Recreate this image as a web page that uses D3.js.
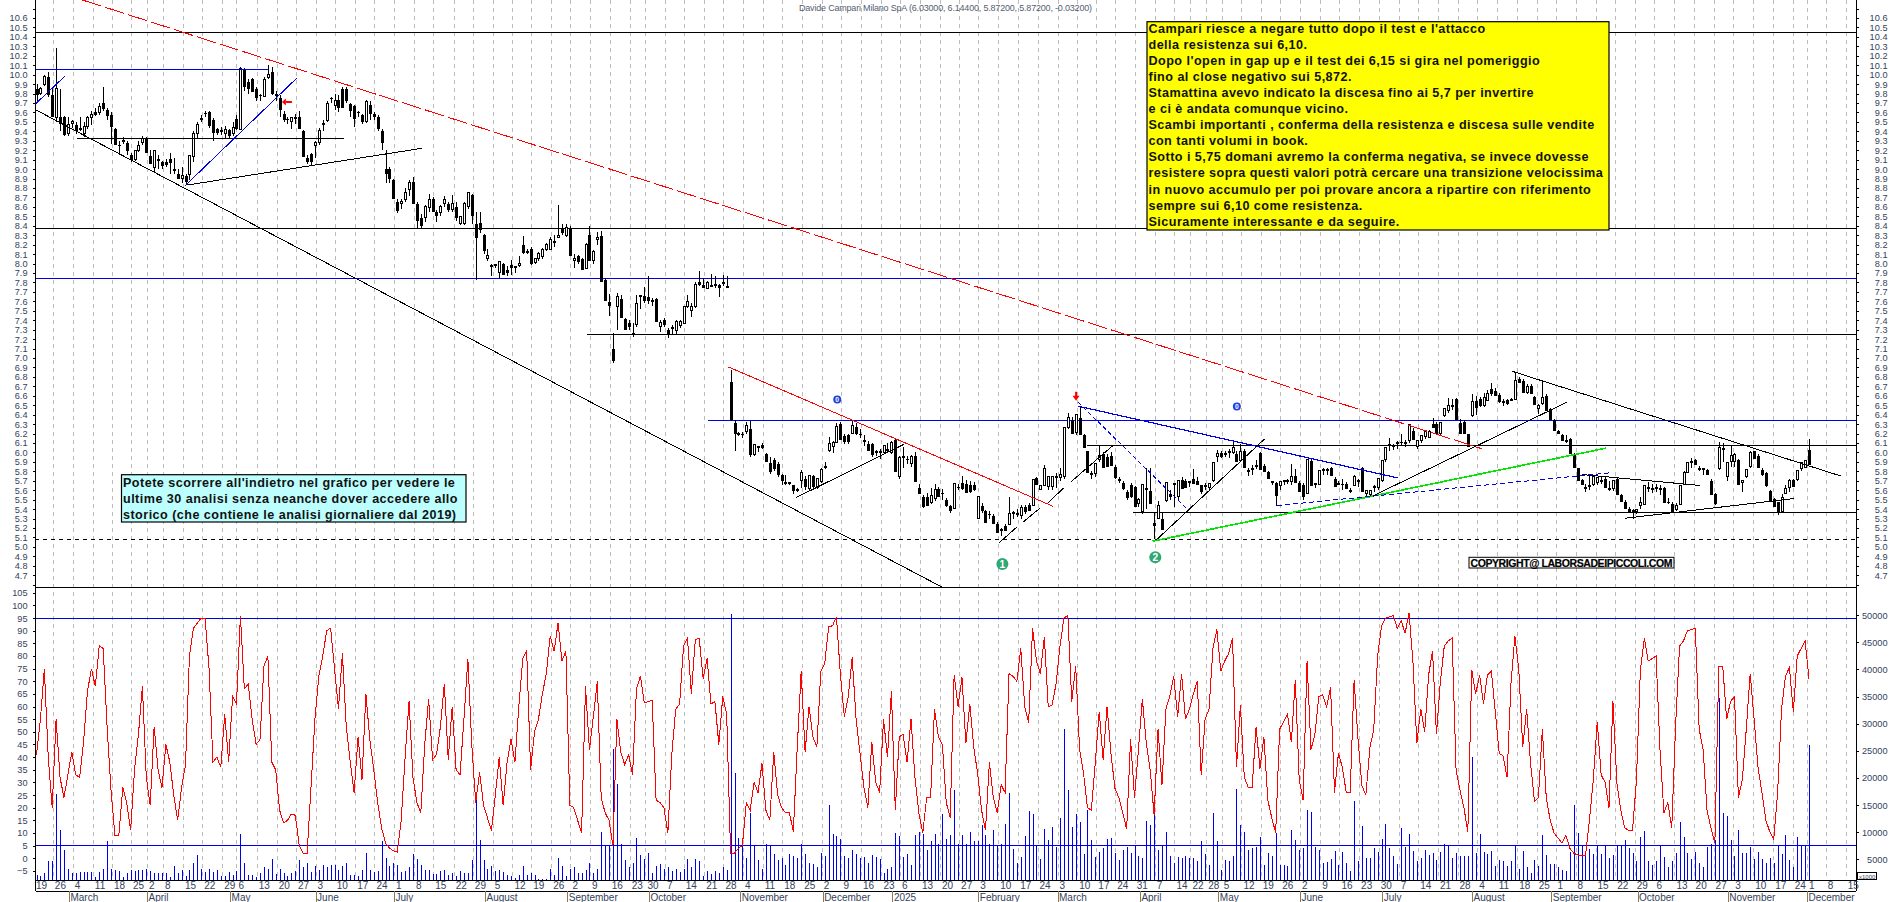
<!DOCTYPE html>
<html>
<head>
<meta charset="utf-8">
<script src="https://cdn.jsdelivr.net/npm/d3@7/dist/d3.min.js"></script>
<style>
html, body { margin: 0; padding: 0; background: #fff; overflow: hidden; }
text { font-family: "Liberation Sans", Arial, sans-serif; }
.axis path, .axis line { stroke: #000; shape-rendering: crispEdges; }
.axis text { fill: #35425c; font-size: 9.2px; }
</style>
</head>
<body>
<div id="chart"></div>
<script>
// open, high, low, close per session
const ohlc = [
[9.85,9.9,9.7,9.78],[9.8,9.87,9.78,9.85],[9.9,10.0,9.88,9.98],[9.98,10.03,9.76,9.78],[9.78,9.85,9.55,9.55],[9.55,10.28,9.5,9.85],[9.55,9.85,9.4,9.48],[9.55,9.56,9.35,9.36],[9.38,9.55,9.35,9.47],[9.48,9.52,9.44,9.5],
[9.47,9.5,9.37,9.4],[9.43,9.55,9.4,9.41],[9.38,9.5,9.34,9.45],[9.45,9.56,9.42,9.55],[9.55,9.62,9.47,9.58],[9.6,9.65,9.56,9.57],[9.6,9.7,9.57,9.66],[9.7,9.87,9.62,9.64],[9.63,9.65,9.52,9.56],[9.57,9.6,9.27,9.45],
[9.42,9.44,9.25,9.25],[9.25,9.3,9.17,9.24],[9.29,9.34,9.27,9.3],[9.28,9.3,9.15,9.19],[9.15,9.17,9.07,9.1],[9.1,9.2,9.09,9.2],[9.2,9.3,9.18,9.25],[9.28,9.35,9.26,9.32],[9.33,9.34,9.17,9.17],[9.14,9.2,9.05,9.05],
[9.02,9.2,8.96,9.2],[9.09,9.15,9.0,9.1],[9.07,9.09,9.0,9.03],[9.08,9.11,9.02,9.04],[9.11,9.17,8.95,9.06],[9.0,9.12,8.95,8.98],[8.95,9.0,8.9,8.9],[8.9,9.02,8.85,8.93],[8.93,8.95,8.83,8.86],[8.94,9.15,8.88,9.14],
[9.13,9.4,9.08,9.38],[9.38,9.5,9.33,9.47],[9.53,9.57,9.5,9.54],[9.59,9.62,9.55,9.58],[9.6,9.62,9.44,9.46],[9.52,9.54,9.3,9.38],[9.42,9.44,9.36,9.38],[9.4,9.45,9.36,9.41],[9.38,9.46,9.32,9.42],[9.41,9.42,9.33,9.35],
[9.38,9.5,9.35,9.44],[9.53,9.57,9.41,9.42],[9.42,10.08,9.41,10.07],[10.05,10.07,9.83,9.87],[9.92,9.95,9.8,9.85],[9.95,9.96,9.82,9.82],[9.85,9.87,9.72,9.75],[9.78,9.8,9.72,9.77],[9.77,9.97,9.76,9.95],[9.97,10.1,9.95,10.0],
[10.03,10.08,9.78,9.8],[9.78,9.83,9.72,9.79],[9.75,9.78,9.55,9.63],[9.58,9.62,9.5,9.52],[9.53,9.55,9.48,9.52],[9.5,9.55,9.42,9.55],[9.54,9.58,9.48,9.55],[9.55,9.62,9.42,9.42],[9.4,9.41,9.13,9.13],[9.12,9.15,9.05,9.08],
[9.16,9.17,9.03,9.08],[9.25,9.3,9.12,9.28],[9.28,9.43,9.25,9.41],[9.47,9.52,9.4,9.48],[9.51,9.72,9.5,9.69],[9.75,9.76,9.7,9.74],[9.67,9.8,9.63,9.73],[9.73,9.78,9.6,9.65],[9.85,9.87,9.65,9.65],[9.85,9.87,9.7,9.72],
[9.69,9.7,9.55,9.61],[9.67,9.68,9.45,9.53],[9.6,9.62,9.55,9.59],[9.57,9.58,9.48,9.5],[9.5,9.73,9.49,9.72],[9.68,9.72,9.52,9.58],[9.58,9.6,9.52,9.55],[9.55,9.57,9.4,9.42],[9.4,9.42,9.2,9.28],[9.0,9.2,8.85,8.95],
[9.0,9.02,8.85,8.9],[8.88,8.9,8.68,8.68],[8.65,8.68,8.53,8.56],[8.64,8.68,8.58,8.66],[8.68,8.8,8.65,8.75],[8.78,8.88,8.72,8.86],[8.86,8.92,8.63,8.63],[8.63,8.65,8.38,8.45],[8.48,8.52,8.38,8.4],[8.49,8.62,8.44,8.6],
[8.59,8.74,8.55,8.68],[8.68,8.7,8.55,8.55],[8.55,8.57,8.44,8.5],[8.54,8.62,8.5,8.6],[8.64,8.72,8.6,8.68],[8.63,8.65,8.55,8.57],[8.57,8.73,8.55,8.64],[8.6,8.65,8.45,8.48],[8.42,8.5,8.41,8.5],[8.42,8.65,8.41,8.64],
[8.6,8.76,8.58,8.75],[8.73,8.74,8.42,8.5],[8.42,8.55,7.83,8.27],[8.43,8.55,8.32,8.36],[8.3,8.31,8.1,8.13],[8.05,8.15,8.03,8.09],[7.97,8.0,7.87,7.98],[7.99,8.0,7.95,7.99],[7.9,8.03,7.85,8.02],[8.0,8.01,7.88,7.88],
[7.93,7.97,7.87,7.9],[7.98,8.04,7.88,7.95],[7.96,7.97,7.9,7.97],[7.98,8.08,7.96,8.0],[8.2,8.29,8.1,8.11],[8.13,8.15,8.1,8.13],[8.15,8.17,7.98,8.0],[8.01,8.06,8.0,8.05],[8.05,8.12,8.03,8.11],[8.07,8.16,8.05,8.15],
[8.15,8.22,8.13,8.2],[8.15,8.28,8.14,8.25],[8.22,8.3,8.18,8.23],[8.28,8.62,8.27,8.3],[8.38,8.42,8.3,8.32],[8.3,8.42,8.28,8.38],[8.38,8.4,8.08,8.08],[8.03,8.1,7.95,8.05],[8.08,8.09,8.0,8.02],[8.05,8.06,7.93,7.93],
[7.95,8.22,7.94,8.2],[8.3,8.4,8.03,8.03],[8.03,8.14,8.0,8.13],[8.25,8.33,8.2,8.28],[8.29,8.34,7.8,7.8],[7.83,7.84,7.6,7.6],[7.59,7.68,7.44,7.55],[7.1,7.26,6.95,6.97],[7.55,7.69,7.3,7.65],[7.62,7.67,7.42,7.42],
[7.41,7.42,7.3,7.3],[7.37,7.4,7.3,7.33],[7.26,7.37,7.22,7.24],[7.35,7.67,7.33,7.58],[7.65,7.67,7.52,7.66],[7.66,7.75,7.58,7.6],[7.65,7.87,7.57,7.6],[7.6,7.63,7.55,7.61],[7.62,7.63,7.38,7.38],[7.33,7.4,7.28,7.38],
[7.4,7.42,7.33,7.35],[7.3,7.32,7.21,7.25],[7.31,7.35,7.24,7.32],[7.29,7.4,7.24,7.39],[7.34,7.4,7.32,7.39],[7.37,7.55,7.36,7.54],[7.54,7.67,7.53,7.6],[7.5,7.58,7.43,7.55],[7.54,7.8,7.53,7.78],[7.8,7.92,7.76,7.77],
[7.77,7.85,7.74,7.74],[7.74,7.81,7.73,7.8],[7.76,7.89,7.75,7.77],[7.78,7.87,7.74,7.76],[7.77,7.78,7.65,7.74],[7.8,7.88,7.76,7.78],[7.76,7.87,7.75,7.76],
[6.75,6.87,6.33,6.34],[6.31,6.34,6.02,6.19],[6.2,6.22,6.17,6.2],[6.2,6.22,6.15,6.19],[6.22,6.32,6.2,6.29],[6.25,6.33,5.95,5.97],[5.98,6.09,5.96,6.08],
[6.05,6.07,6.0,6.06],[6.08,6.1,6.04,6.05],[5.98,5.99,5.9,5.9],[5.89,5.95,5.77,5.79],[5.92,5.94,5.8,5.82],[5.88,5.9,5.74,5.76],[5.76,5.77,5.65,5.7],[5.68,5.76,5.66,5.68],[5.67,5.69,5.65,5.68],[5.65,5.66,5.56,5.59],
[5.6,5.62,5.58,5.61],[5.7,5.81,5.62,5.79],[5.72,5.75,5.6,5.63],[5.62,5.76,5.6,5.76],[5.75,5.76,5.61,5.63],[5.63,5.73,5.61,5.72],[5.69,5.83,5.68,5.82],[5.84,5.9,5.82,5.85],[6.02,6.16,6.0,6.09],[6.06,6.12,5.99,6.11],
[6.11,6.31,6.1,6.27],[6.3,6.32,6.13,6.13],[6.17,6.2,6.09,6.11],[6.18,6.2,6.09,6.11],[6.2,6.34,6.19,6.28],[6.27,6.31,6.18,6.2],[6.2,6.25,6.15,6.19],[6.13,6.18,6.07,6.13],[6.09,6.12,6.02,6.02],[6.09,6.1,5.95,5.97],
[6.0,6.03,5.96,6.01],[6.0,6.04,5.93,6.01],[6.0,6.08,5.98,6.07],[6.04,6.1,6.0,6.02],[6.0,6.12,5.98,6.11],[6.13,6.14,5.79,5.79],[5.74,5.96,5.72,5.95],[5.96,6.06,5.84,5.96],[5.93,5.96,5.88,5.92],[5.88,5.97,5.85,5.96],
[5.96,6.0,5.69,5.69],[5.62,5.67,5.56,5.56],[5.53,5.55,5.41,5.42],[5.53,5.57,5.43,5.43],[5.47,5.62,5.45,5.54],[5.51,5.67,5.49,5.61],[5.61,5.63,5.53,5.53],[5.57,5.61,5.5,5.56],[5.5,5.52,5.42,5.43],[5.43,5.44,5.36,5.38],
[5.41,5.67,5.4,5.67],[5.63,5.67,5.6,5.62],[5.68,5.75,5.6,5.61],[5.67,5.71,5.57,5.57],[5.66,5.7,5.57,5.58],[5.65,5.69,5.59,5.6],[5.3,5.53,5.29,5.53],[5.43,5.46,5.36,5.38],[5.38,5.39,5.25,5.25],[5.35,5.38,5.3,5.34],
[5.33,5.35,5.24,5.24],[5.24,5.26,5.15,5.15],[5.17,5.2,5.12,5.18],[5.22,5.24,5.17,5.17],[5.24,5.53,5.23,5.35],[5.35,5.38,5.3,5.36],[5.34,5.4,5.32,5.35],[5.33,5.44,5.3,5.42],[5.42,5.44,5.35,5.37],[5.44,5.46,5.38,5.38],
[5.44,5.72,5.43,5.71],[5.73,5.74,5.65,5.65],[5.61,5.66,5.6,5.65],[5.65,5.87,5.64,5.83],[5.64,5.75,5.6,5.74],[5.64,5.75,5.6,5.74],[5.73,5.78,5.62,5.74],[5.73,5.84,5.7,5.77],[5.74,6.26,5.72,6.26],[6.26,6.42,6.25,6.37],
[6.33,6.37,6.19,6.19],[6.21,6.4,6.18,6.4],[6.36,6.49,6.18,6.18],[6.18,6.2,6.05,6.05],[6.01,6.02,5.78,5.78],[5.78,5.8,5.72,5.76],[5.78,5.88,5.74,5.88],[5.92,6.07,5.9,5.97],[5.98,6.0,5.84,5.84],[5.95,5.98,5.85,5.85],
[5.96,6.0,5.86,5.86],[5.85,5.87,5.72,5.73],[5.72,5.74,5.68,5.7],[5.68,5.7,5.6,5.61],[5.58,5.6,5.5,5.52],[5.65,5.68,5.52,5.53],[5.63,5.64,5.42,5.42],[5.46,5.52,5.42,5.5],[5.37,5.66,5.35,5.66],[5.62,5.84,5.4,5.62],
[5.59,5.83,5.45,5.45],[5.25,5.36,5.08,5.22],[5.3,5.49,5.29,5.44],[5.3,5.36,5.18,5.18],[5.49,5.68,5.48,5.68],[5.56,5.6,5.5,5.53],[5.66,5.68,5.42,5.67],[5.53,5.7,5.5,5.7],[5.71,5.74,5.61,5.61],[5.7,5.72,5.62,5.62],
[5.68,5.7,5.63,5.69],[5.72,5.82,5.67,5.67],[5.7,5.74,5.65,5.66],[5.65,5.66,5.56,5.58],[5.64,5.68,5.6,5.65],[5.63,5.67,5.6,5.67],[5.7,5.89,5.69,5.89],[5.96,6.03,5.9,5.99],[5.99,6.02,5.94,5.95],[5.99,6.02,5.95,5.99],
[6.01,6.04,5.94,6.01],[6.0,6.11,5.98,6.05],[5.98,6.02,5.9,5.9],[5.91,6.09,5.9,6.01],[6.01,6.04,5.84,5.84],[5.81,5.84,5.75,5.81],[5.83,5.87,5.76,5.83],[5.86,5.92,5.82,5.86],[5.99,6.0,5.81,5.81],[5.86,5.88,5.79,5.79],
[5.79,5.8,5.72,5.72],[5.68,5.7,5.65,5.69],[5.68,5.69,5.43,5.54],[5.65,5.7,5.6,5.69],[5.69,5.71,5.66,5.7],[5.7,5.72,5.67,5.7],[5.69,5.88,5.65,5.75],[5.75,5.82,5.68,5.68],[5.68,5.7,5.58,5.58],[5.66,5.68,5.5,5.53],
[5.57,5.92,5.56,5.92],[5.91,5.93,5.64,5.64],[5.66,5.68,5.62,5.67],[5.66,5.81,5.65,5.81],[5.81,5.83,5.76,5.82],[5.82,5.84,5.76,5.82],[5.83,5.85,5.75,5.75],[5.72,5.74,5.63,5.63],[5.68,5.7,5.65,5.65],[5.67,5.72,5.6,5.66],
[5.67,5.69,5.61,5.61],[5.6,5.62,5.57,5.58],[5.65,5.76,5.64,5.74],[5.7,5.72,5.63,5.7],[5.84,5.85,5.58,5.58],[5.56,5.6,5.54,5.6],[5.55,5.6,5.53,5.6],[5.63,5.66,5.58,5.64],[5.63,5.72,5.6,5.72],[5.7,5.91,5.69,5.91],
[5.92,6.05,5.9,6.05],[6.07,6.15,6.02,6.08],[6.06,6.09,6.03,6.07],[6.09,6.12,6.04,6.1],[6.11,6.2,6.08,6.1],[6.1,6.13,6.06,6.11],[6.13,6.3,6.1,6.3],[6.23,6.26,6.13,6.13],[6.06,6.13,6.04,6.13],[6.13,6.18,6.1,6.18],
[6.17,6.24,6.14,6.22],[6.16,6.24,6.15,6.22],[6.3,6.36,6.26,6.26],[6.3,6.32,6.2,6.2],[6.2,6.32,6.18,6.32],[6.39,6.47,6.37,6.47],[6.44,6.58,6.42,6.5],[6.5,6.57,6.45,6.5],[6.57,6.58,6.34,6.34],[6.31,6.35,6.2,6.2],
[6.32,6.34,6.2,6.2],[6.19,6.2,6.06,6.06],[6.39,6.62,6.37,6.54],[6.54,6.6,6.4,6.47],[6.57,6.59,6.48,6.49],[6.5,6.63,6.48,6.58],[6.55,6.66,6.54,6.62],[6.67,6.74,6.6,6.62],[6.65,6.68,6.6,6.6],[6.61,6.63,6.52,6.53],
[6.54,6.57,6.49,6.54],[6.55,6.57,6.5,6.51],[6.56,6.58,6.54,6.56],[6.56,6.85,6.55,6.76],[6.78,6.8,6.73,6.73],[6.76,6.78,6.63,6.63],[6.63,6.72,6.62,6.7],[6.7,6.72,6.62,6.62],[6.59,6.6,6.5,6.5],[6.47,6.51,6.41,6.5],
[6.52,6.77,6.5,6.58],[6.6,6.62,6.44,6.44],[6.46,6.47,6.34,6.34],[6.34,6.35,6.23,6.23],[6.23,6.24,6.2,6.2],[6.18,6.19,6.12,6.12],[6.13,6.18,6.1,6.13],[6.14,6.15,5.98,5.98],[5.98,5.99,5.84,5.84],[5.83,5.84,5.7,5.7],
[5.71,5.72,5.66,5.66],[5.63,5.67,5.58,5.63],[5.65,5.75,5.6,5.65],[5.66,5.76,5.64,5.75],[5.68,5.73,5.66,5.73],[5.7,5.75,5.67,5.7],[5.72,5.74,5.62,5.62],[5.61,5.7,5.59,5.62],[5.62,5.7,5.59,5.7],[5.72,5.73,5.55,5.55],
[5.55,5.56,5.47,5.47],[5.48,5.5,5.4,5.4],[5.4,5.42,5.37,5.37],[5.38,5.4,5.3,5.38],[5.37,5.4,5.35,5.4],[5.44,5.53,5.4,5.47],[5.45,5.65,5.44,5.65],[5.63,5.69,5.58,5.63],[5.62,5.67,5.57,5.62],[5.63,5.67,5.58,5.63],
[5.62,5.65,5.55,5.6],[5.62,5.63,5.46,5.46],[5.48,5.52,5.45,5.47],[5.45,5.47,5.36,5.37],[5.4,5.46,5.38,5.44],[5.45,5.66,5.44,5.65],[5.66,5.8,5.65,5.79],[5.79,5.9,5.78,5.89],[5.89,5.94,5.84,5.9],[5.92,5.93,5.87,5.87],
[5.84,5.86,5.8,5.81],[5.82,5.84,5.76,5.83],[5.81,5.82,5.76,5.76],[5.7,5.72,5.55,5.55],[5.56,5.57,5.44,5.45],[5.83,6.11,5.81,6.05],[6.05,6.1,5.9,6.03],[5.75,5.9,5.7,5.89],[5.9,6.07,5.85,5.97],[5.9,5.99,5.85,5.98],
[5.92,5.93,5.66,5.66],[5.68,5.7,5.58,5.7],[5.74,5.82,5.73,5.82],[5.85,6.01,5.84,6.0],[6.01,6.02,5.93,5.93],[5.96,5.98,5.83,5.83],[5.81,5.83,5.75,5.76],[5.78,5.79,5.63,5.64],[5.59,5.6,5.49,5.49],[5.51,5.52,5.42,5.42],
[5.47,5.48,5.34,5.37],[5.37,5.56,5.36,5.52],[5.57,5.66,5.56,5.62],[5.63,5.72,5.58,5.7],[5.71,5.72,5.63,5.63],[5.71,5.81,5.7,5.81],[5.83,5.9,5.8,5.89],[5.84,5.92,5.83,5.91],[6.03,6.144,5.872,5.872]
];

const oscillator = [
41,55,75,40,20,55,32,24,33,42,33,32,46,66,75,68,84,83,52,27,9,9,28,22,11,35,49,68,32,21,52,35,28,45,38,25,15,28,37,80,91,93,95,95,75,38,40,36,57,38,
64,61,96,67,69,55,45,47,76,80,38,35,19,14,15,17.5,17,5,2,2,28,55,72,80,90,91,75,59,81,52,38,26,48,31,65,47,35,22,12,6,4,3,2.5,15,40,62,32,22,18,45,
63,39,41,52,69,39,60,35,33,55,79,45,22,34,21,16,11,25,40,21,38,47,38,60,79,82,35,50,55,65,73,88,82,93,78,82,21,20,15,10,68,43,56,70,24,18,15,5,55,42,
37,41,33,67,72,61.5,62,62.5,23,22,20,10,41,59,61,84,87,65,86.5,87,71,79,61,62,45,64,57,2,2,4,5,22,19,30,26,37.5,19,15,42,25,20,18,18,10.5,44,74,42,60,48,44,
74,77,91.5,92,95.5,72.5,56,64,79.5,55,41.5,28,20,46,30,26,55,40,66,19,48,49,38,55,32,18,10,24,24,59,48,45,22,16,72.5,60,71.5,45.5,61,44,33.5,19,11,38,24,18,29,26,73,72,
70,83,60,53.5,91,78,73,87.6,60,60.6,69,84,95,96,62,76,43,33.6,20,19,38,58,39,60,41.5,27.7,24,18,11.5,47,24,43,63,45.5,35,17,51,29,59,64,72,56,73,55,59,65,70,33,55,59,
83,90.5,74,78,81,87,36,60.6,32,28,28,52,35.5,48,23,16,10,51,54,57,46,70.5,31,23,78,43,49,64,64.6,60,67.6,26,41.5,36,26,26,70.5,47,28.7,25,43.5,51,80,92,95,95.5,96,91,94,89,
97,78,45.5,59,50,72.5,82,49,70,84,86,87,35,27,20,10.5,74.5,65,72.5,61,72.5,74,58,41.5,40.5,32,69,88,74.5,44,59,37.5,22.4,24,51,24,15,10,8,6,9,4,2,1.3,1,1,15,31,54,33,
30,20,62,30,19,12,11,11,31,74.5,87,78,79,80,43,18,22,12,53,84,86,90,90.5,91,51,43,19,12,6,76,76,55,62,64,24,31,51,73,55,36,26,15,10.5,7.5,26,59,72,75.5,58,80,83,86,71
];

// volume, thousands of shares
const volume = [
2.1,1.9,2.4,4.6,4.6,17,10.4,6.7,3.3,2.5,2.5,2.7,2.7,2.7,2.7,1.8,2.7,3.3,8.3,3.2,3,2.9,1.8,2.5,3,2.9,3,3,3.3,2.9,2.5,2.4,2.4,2.5,1.8,3.8,2.5,3,1.9,3,
4.3,5.8,3.3,2.7,3.3,2.7,3,1.9,1.9,2.6,2.1,2.9,9.7,4.3,2.1,2.1,1.7,2.4,3.6,3.2,5,2.3,3.2,2.4,1.9,2.4,2.9,4.9,3.5,4.3,2.7,3.8,3,4,3.5,4,4,3,3.8,4.3,
2.1,2.1,1.9,3,6.2,3,2.6,2.9,8.3,5.3,3.8,4.4,4,2.7,2.9,3.6,6,5,4,3,3,2.3,2.3,2.9,3,2.2,2.5,2,2.9,2.5,2.5,4.9,16.8,8.6,4.9,3.3,3.8,2.9,3,2.7,
2.1,1.9,1.5,2.2,3.8,2.1,2.4,2.1,1.3,1.3,1.4,3.2,2.2,5.2,3.8,1.9,3.2,3.6,2.4,2.4,3,4.3,2.4,3.2,10,7.5,7.5,25.4,18.9,7.9,4.9,3.6,
4.3,9,5.8,5,6.1,2.4,3.8,4.1,3.3,3.5,2.9,3.3,2.6,3.3,5,3.5,5,4.7,1.9,2.9,2.3,2.9,2.4,3.5,3,50.2,21,8.9,7.9,5.2,13.5,7.5,4.9,3.2,7.8,7.6,6,4.8,5.2,4,6,5.6,5.2,7.9,6,4.4,4.1,3.6,
6.2,5.6,15,9.7,9.3,8.7,5.6,5.3,6.7,6,5.2,5.5,4.3,5.8,5.5,5,2.5,3.3,3.6,9.8,9.3,5.5,6,4,9.5,10,9.7,6.8,8.3,9.7,7.9,13.3,8.7,9.5,17.8,7.9,9.5,7.8,10.1,8.4,
8.3,11.3,9.5,7.8,10.4,7.5,7.8,11.6,17.3,6.9,4.3,5.5,9.3,13.9,13.3,7.5,5,10.6,8.6,11,7.3,12.7,29,17.8,11,13.3,11.8,6,14,8.6,5.5,6.4,7,8.7,9,6.2,4.9,6.7,7.3,6.1,
7.5,5.6,5.3,12.1,11.3,16.8,6.8,7.5,10.1,5.6,4.4,5.4,5.2,5.6,5.2,5.2,4.7,8.3,6,4,13.6,8.3,3,4.9,4.6,5.6,18,11.3,10,6.7,7,7.3,
9.2,4,6.1,5.6,9.8,4,4,3.8,10.4,8.6,6.8,7,14.1,13.8,7.3,6.8,4.4,4.5,5,6.6,4,6.4,4.4,2.9,15.7,4.7,11.1,5.3,5.3,7,6.4,8.7,11.6,7,5.6,4.1,10.7,7.3,9.7,6.5,
4.6,5.3,6.7,5.8,6.1,4.9,6.4,7.8,7.5,5.2,6.2,5.7,5.7,5.7,23.9,6.1,9.7,6.3,6,6.5,3.8,4.9,4.6,3.8,4.6,7.5,3.2,6.6,3.5,2.5,4.9,3.8,9.5,5.8,4.1,4.1,3.6,3,2.9,6.4,
15,9.9,7.5,5.8,6.9,6,7.5,6,7.5,5.3,5.8,7.5,7.5,8.6,7.1,6.1,4.7,9.2,10.2,4.6,4,4.6,7.5,5.5,3.5,4.7,6.1,11.8,9.2,6.2,5.1,6.4,4.4,3.5,7.3,7.8,8.6,34.8,13.6,12.9,
8.6,5.6,10.4,6.2,6.1,7.3,5,6.3,5,4.4,5.3,4.3,7.5,6,9.4,4.9,3.5,9.2,7.5,7.5,26
];

// weekly date row: label and the session position it sits on
const dayLabels = ["26","4","11","18","25","2","8","15","22","29","6","13","20","27","3","10","17","24","1","8","15","22","29","5","12","19","26","2","9","16","23","30","7","14","21","28","4","11","18","25","2","9","16","23","6","13","20","27","3","10","17","24","3","10","17","24","31","7","14","22","28","5","12","19","26","2","9","16","23","30","7","14","21","28","4","11","18","25","1","8","15","22","29","6","13","20","27","3","10","17","24","1","8","15"];
const dayPos = [4.3,9.4,14.5,19.4,24.2,28.3,32.4,37.5,42.4,47.5,51.1,56.3,61.4,66.3,71.3,76.2,81.4,86.3,91.3,96.4,101.3,106.5,111.4,116.5,121.5,126.3,131.4,136.3,141.3,146.3,151.4,155.4,160.4,165.2,170.4,175.3,180.3,185.3,190.3,195.4,200.4,205.4,210.4,215.6,220.3,225.4,230.5,235.4,240.3,245.4,250.5,255.4,260.5,265.5,270.4,275.2,280.2,285.3,290.3,294.4,298.4,302.4,307.4,312.3,317.3,322.3,327.5,332.4,337.4,342.4,347.5,352.5,357.5,362.5,367.5,372.5,377.7,382.7,387.5,392.6,397.7,402.7,407.7,412.7,417.8,422.7,427.8,432.8,437.9,443,448,451.6,456.4,461.5];

const monthLabels = ["March","April","May","June","July","August","September","October","November","December","2025","February","March","April","May","June","July","August","September","October","November","December"];
const monthPos = [8.4,28.3,49.5,71.3,91.3,114.5,135.5,156.3,179.6,200.6,218.4,240.3,260.5,281.5,301.5,322.3,343.3,366.2,386.4,408.4,431.4,451.6];

const priceTicks = d3.range(46, 109).map(d => d / 10);
const oscTicks = d3.range(-5, 106, 5);
const volTicks = d3.range(5, 51, 5);

// horizontal levels: price, first session, colour, dash
const levels = [
  [10.45, -0.3, "#000", null],
  [8.37, -0.3, "#000", null],
  [7.84, -0.3, "#0000e6", null],
  [7.247, 140.4, "#000", null],
  [6.335, 171.2, "#0000e6", null],
  [6.07, 268, "#000", null],
  [5.36, 279.5, "#000", null],
  [5.08, -0.3, "#000", "4,4"]
];

// trend lines: [session, price, session, price, colour, width, dash]
const trends = [
  [-0.3, 10.05, 59.1, 10.05, "#0000e6", 1, null],
  [10.4, 9.325, 78.3, 9.325, "#000", 1, null],
  [11.7, 10.79, 368.5, 6.04, "#ff0000", 1, "20,4"],
  [-0.1, 9.625, 231.1, 4.57, "#000", 1, null],
  [-0.1, 9.696, 7.3, 9.986, "#0000e6", 1, null],
  [37.8, 8.82, 66.3, 9.96, "#0000e6", 1, null],
  [38.3, 8.83, 98.3, 9.22, "#000", 1, null],
  [176.5, 6.904, 259.2, 5.43, "#ff0000", 1, null],
  [193.6, 5.52, 221.1, 6.084, "#000", 1, null],
  [245.4, 5.04, 250, 5.21, "#000", 1, null],
  [251.5, 5.26, 255.9, 5.41, "#000", 1, null],
  [258, 5.47, 262, 5.625, "#000", 1, null],
  [263.7, 5.685, 274.4, 6.07, "#000", 1, null],
  [265.6, 6.49, 347.1, 5.73, "#0000e6", 1.2, null],
  [265.6, 6.533, 293.8, 5.385, "#0000e6", 1, "4,3"],
  [285.4, 5.067, 313.1, 6.14, "#000", 1, null],
  [284.6, 5.06, 400.2, 6.045, "#00e600", 1.6, null],
  [316.4, 5.438, 401.2, 5.784, "#0000e6", 1, "5,3"],
  [340.8, 5.54, 390.2, 6.53, "#000", 1, null],
  [376.4, 6.858, 460.2, 5.749, "#000", 1, null],
  [394.1, 5.766, 424.3, 5.65, "#000", 1, null],
  [405.1, 5.303, 448.2, 5.512, "#000", 1, null]
];

const noteLines = [
  "Campari riesce a negare tutto dopo il test e l'attacco",
  "della resistenza sui 6,10.",
  "Dopo l'open in gap up e il test dei 6,15 si gira nel pomeriggio",
  "fino al close negativo sui 5,872.",
  "Stamattina avevo indicato la discesa fino ai 5,7 per invertire",
  "e ci è andata comunque vicino.",
  "Scambi importanti , conferma della resistenza e discesa sulle vendite",
  "con tanti volumi in book.",
  "Sotto i 5,75 domani avremo la conferma negativa, se invece dovesse",
  "resistere sopra questi valori potrà cercare una transizione velocissima",
  "in nuovo accumulo per poi provare ancora a ripartire con riferimento",
  "sempre sui 6,10 come resistenza.",
  "Sicuramente interessante e da seguire."
];
const infoLines = [
  "Potete scorrere all'indietro nel grafico per vedere le",
  "ultime 30 analisi senza neanche dover accedere allo",
  "storico (che contiene le analisi giornaliere dal 2019)"
];

const width = 1890, height = 902;
const axisL = 35.5, axisR = 1856;
const paneTop = 587.5, paneBot = 880, dateMid = 891;

const svg = d3.select("#chart").append("svg")
  .attr("width", width)
  .attr("height", height)
  .style("display", "block");

const x = d3.scaleLinear().domain([0, 452]).range([36.5, 1809]);
const yPrice = d3.scaleLinear().domain([4.57, 10.79]).range([paneTop, 0]);
const yOsc = d3.scaleLinear().domain([-8.6, 107.1]).range([paneBot, paneTop]);
const yVol = d3.scaleLinear().domain([1.19, 55.1]).range([paneBot, paneTop]);

// weekly grid through both panes
svg.append("g").selectAll("line")
  .data(dayPos)
  .join("line")
  .attr("x1", d => x(d)).attr("x2", d => x(d))
  .attr("y1", 0).attr("y2", paneBot)
  .attr("stroke", "#bcbcbc")
  .attr("stroke-dasharray", "4,4")
  .style("shape-rendering", "crispEdges");

// horizontal levels
svg.append("g").selectAll("line")
  .data(levels)
  .join("line")
  .attr("x1", d => x(d[1])).attr("x2", axisR)
  .attr("y1", d => yPrice(d[0])).attr("y2", d => yPrice(d[0]))
  .attr("stroke", d => d[2])
  .attr("stroke-width", 1)
  .attr("stroke-dasharray", d => d[3])
  .style("shape-rendering", "crispEdges");

// candles
const candle = svg.append("g").selectAll("g")
  .data(ohlc)
  .join("g")
  .style("shape-rendering", "crispEdges");
candle.append("line")
  .attr("x1", (d, i) => Math.round(x(i)) + 0.5).attr("x2", (d, i) => Math.round(x(i)) + 0.5)
  .attr("y1", d => yPrice(d[1])).attr("y2", d => yPrice(d[2]))
  .attr("stroke", "#000");
candle.append("rect")
  .attr("x", (d, i) => d[3] >= d[0] ? Math.round(x(i)) - 0.5 : Math.round(x(i)) - 1)
  .attr("width", d => d[3] >= d[0] ? 2 : 3)
  .attr("y", d => yPrice(Math.max(d[0], d[3])))
  .attr("height", d => Math.max(1, Math.abs(yPrice(d[0]) - yPrice(d[3]))))
  .attr("fill", d => d[3] >= d[0] ? "#fff" : "#000")
  .attr("stroke", d => d[3] >= d[0] ? "#000" : "none");

// trend lines go over the candles
svg.append("g").selectAll("line")
  .data(trends)
  .join("line")
  .attr("x1", d => x(d[0])).attr("y1", d => yPrice(d[1]))
  .attr("x2", d => x(d[2])).attr("y2", d => yPrice(d[3]))
  .attr("stroke", d => d[4])
  .attr("stroke-width", d => d[5])
  .attr("stroke-dasharray", d => d[6])
  .style("shape-rendering", "crispEdges");

// little red arrows
const arrowLeft = svg.append("g")
  .attr("transform", `translate(${x(63.6)},${yPrice(9.71)})`)
  .attr("fill", "#ff0000");
arrowLeft.append("path").attr("d", "M-4,0L0,-3.5L0,3.5Z");
arrowLeft.append("rect").attr("x", 0).attr("y", -1).attr("width", 6).attr("height", 2);
const arrowDown = svg.append("g")
  .attr("transform", `translate(${x(265.1)},${yPrice(6.6)})`)
  .attr("fill", "#ff0000");
arrowDown.append("path").attr("d", "M0,5L-3.5,0L3.5,0Z");
arrowDown.append("rect").attr("x", -1).attr("y", -4).attr("width", 2).attr("height", 5);

// numbered dots
const badges = [[204.2, 6.56, "0", "#1f3fe0", 4], [306.1, 6.487, "0", "#1f3fe0", 4], [246.3, 4.82, "1", "#2fa873", 6], [285.3, 4.89, "2", "#2fa873", 6]];
const badge = svg.append("g").selectAll("g")
  .data(badges)
  .join("g")
  .attr("transform", d => `translate(${x(d[0])},${yPrice(d[1])})`);
badge.append("circle").attr("r", d => d[4]).attr("fill", d => d[3]);
badge.append("text")
  .attr("text-anchor", "middle").attr("dy", "0.36em")
  .attr("font-size", d => d[4] * 1.7).attr("font-weight", "bold").attr("fill", "#fff")
  .text(d => d[2]);

// lower pane
svg.append("g").selectAll("rect")
  .data(volume)
  .join("rect")
  .attr("x", (d, i) => Math.round(x(i)))
  .attr("width", 1)
  .attr("y", d => yVol(d))
  .attr("height", d => paneBot - yVol(d))
  .attr("fill", "#0000f0")
  .style("shape-rendering", "crispEdges");

svg.append("g").selectAll("line")
  .data([95, 5])
  .join("line")
  .attr("x1", axisL).attr("x2", axisR)
  .attr("y1", d => yOsc(d)).attr("y2", d => yOsc(d))
  .attr("stroke", "#0000e6")
  .style("shape-rendering", "crispEdges");

svg.append("path")
  .datum(oscillator)
  .attr("fill", "none")
  .attr("stroke", "#ff0000")
  .attr("stroke-width", 1)
  .style("shape-rendering", "crispEdges")
  .attr("d", d3.line().x((d, i) => x(i)).y(d => yOsc(d)));

// pane frames
const frame = svg.append("g").style("shape-rendering", "crispEdges").attr("stroke", "#000");
[paneTop, paneBot, dateMid].forEach(y => {
  frame.append("line").attr("x1", axisL).attr("x2", axisR).attr("y1", y).attr("y2", y);
});
[axisL, axisR].forEach(ax => {
  frame.append("line").attr("x1", ax).attr("x2", ax).attr("y1", 0).attr("y2", dateMid);
});

// price and oscillator axes
const priceFmt = d => (d < 4.65 || d > 10.65) ? "" : d3.format(".1f")(d);
const leftPrice = svg.append("g").attr("class", "axis").attr("transform", `translate(${axisL},0)`)
  .call(d3.axisLeft(yPrice).tickValues(priceTicks).tickSize(3).tickPadding(5).tickFormat(priceFmt));
const rightPrice = svg.append("g").attr("class", "axis").attr("transform", `translate(${axisR},0)`)
  .call(d3.axisRight(yPrice).tickValues(priceTicks).tickSize(3).tickFormat(priceFmt));
const leftOsc = svg.append("g").attr("class", "axis").attr("transform", `translate(${axisL},0)`)
  .call(d3.axisLeft(yOsc).tickValues(oscTicks).tickSize(3).tickPadding(5));
const rightVol = svg.append("g").attr("class", "axis").attr("transform", `translate(${axisR},0)`)
  .call(d3.axisRight(yVol).tickValues(volTicks).tickSize(3).tickFormat(d => d * 1000));
[leftPrice, rightPrice, leftOsc, rightVol].forEach(a => a.select(".domain").remove());
// right labels end on one edge
[rightPrice, rightVol].forEach(a => a.selectAll("text").attr("text-anchor", "end").attr("x", 31.5));

// x1000 tag
svg.append("rect").attr("x", axisR + 1.5).attr("y", 872.5).attr("width", 19).attr("height", 7).attr("fill", "#fff").attr("stroke", "#000").style("shape-rendering", "crispEdges");
svg.append("text").attr("x", axisR + 3).attr("y", 878.5).attr("font-size", 6).attr("fill", "#35425c").text("x1000");

// date rows
const dateAxis = svg.append("g");
dateAxis.selectAll("text.day")
  .data(dayPos)
  .join("text")
  .attr("class", "day")
  .attr("x", d => x(d) + 1.5)
  .attr("y", 889)
  .attr("font-size", 10)
  .attr("fill", "#35425c")
  .text((d, i) => dayLabels[i]);
dateAxis.append("text").attr("x", 36).attr("y", 889).attr("font-size", 10).attr("fill", "#35425c").text("19");
dateAxis.selectAll("line.month")
  .data(monthPos)
  .join("line")
  .attr("class", "month")
  .attr("x1", d => x(d)).attr("x2", d => x(d))
  .attr("y1", dateMid).attr("y2", height)
  .attr("stroke", "#8a7a5a")
  .style("shape-rendering", "crispEdges");
dateAxis.selectAll("text.month")
  .data(monthPos)
  .join("text")
  .attr("class", "month")
  .attr("x", d => x(d) + 1)
  .attr("y", 900.5)
  .attr("font-size", 10)
  .attr("fill", "#35425c")
  .text((d, i) => monthLabels[i]);

// title
svg.append("text")
  .attr("x", 799).attr("y", 11)
  .attr("font-size", 9)
  .attr("fill", "#555e70")
  .attr("textLength", 293)
  .text("Davide Campari Milano SpA (6.03000, 6.14400, 5.87200, 5.87200, -0.03200)");

// comment boxes
function noteBox(lines, left, top, right, bottom, fill, firstY) {
  svg.append("rect")
    .attr("x", left).attr("y", top)
    .attr("width", right - left).attr("height", bottom - top)
    .attr("fill", fill).attr("stroke", "#000").attr("stroke-width", 1.2);
  svg.append("g").selectAll("text")
    .data(lines)
    .join("text")
    .attr("x", left + 1.5)
    .attr("y", (d, i) => firstY + i * 16.05)
    .attr("font-size", 12.6)
    .attr("font-weight", "bold")
    .attr("letter-spacing", 0.46)
    .attr("fill", "#111")
    .text(d => d);
}
noteBox(noteLines, 1147, 21.7, 1609, 230, "#ffff00", 33);
noteBox(infoLines, 121.5, 474.7, 466, 522, "#bdffff", 486.5);

// copyright stamp
svg.append("rect").attr("x", 1469).attr("y", 557.3).attr("width", 205).attr("height", 10.7).attr("fill", "#fff").attr("stroke", "#000");
svg.append("text")
  .attr("x", 1470.5).attr("y", 566.6)
  .attr("font-size", 10.5).attr("font-weight", "bold")
  .attr("stroke", "#000").attr("stroke-width", 0.2)
  .attr("textLength", 202)
  .text("COPYRIGHT@ LABORSADEIPICCOLI.COM");
</script>
</body>
</html>
